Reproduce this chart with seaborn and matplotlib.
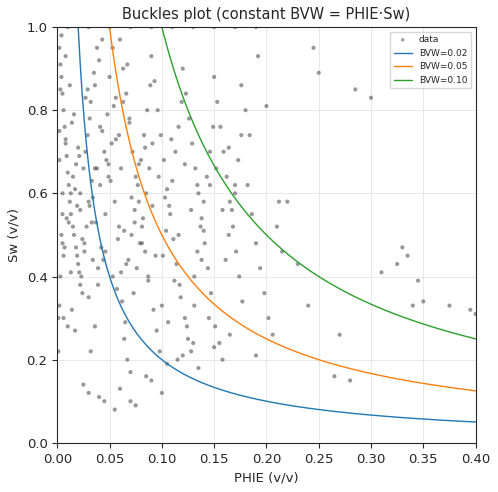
import numpy as np
import matplotlib.pyplot as plt
import seaborn as sns

# scatter points (PHIE, Sw)
phie = [
    0.002, 0.004, 0.006, 0.008, 0.010, 0.012, 0.015, 0.018, 0.020, 0.022,
    0.003, 0.005, 0.007, 0.009, 0.011, 0.013, 0.016, 0.019, 0.021, 0.024,
    0.002, 0.006, 0.010, 0.014, 0.017, 0.023, 0.026, 0.028, 0.030, 0.033,
    0.004, 0.008, 0.012, 0.016, 0.020, 0.025, 0.029, 0.032, 0.035, 0.038,
    0.005, 0.009, 0.013, 0.018, 0.022, 0.027, 0.031, 0.036, 0.040, 0.043,
    0.030, 0.034, 0.037, 0.041, 0.045, 0.048, 0.050, 0.053, 0.056, 0.059,
    0.032, 0.036, 0.039, 0.042, 0.046, 0.049, 0.052, 0.055, 0.058, 0.061,
    0.060, 0.063, 0.066, 0.069, 0.072, 0.075, 0.078, 0.081, 0.084, 0.087,
    0.062, 0.065, 0.068, 0.071, 0.074, 0.077, 0.080, 0.083, 0.086, 0.089,
    0.064, 0.067, 0.070, 0.073, 0.076, 0.079, 0.082, 0.085, 0.088, 0.091,
    0.090, 0.093, 0.096, 0.099, 0.102, 0.105, 0.108, 0.111, 0.114, 0.117,
    0.092, 0.095, 0.098, 0.101, 0.104, 0.107, 0.110, 0.113, 0.116, 0.119,
    0.120, 0.123, 0.126, 0.129, 0.132, 0.135, 0.138, 0.141, 0.144, 0.147,
    0.122, 0.125, 0.128, 0.131, 0.134, 0.137, 0.140, 0.143, 0.146, 0.149,
    0.150, 0.153, 0.156, 0.159, 0.162, 0.165, 0.168, 0.171, 0.174, 0.177,
    0.151, 0.155, 0.158, 0.161, 0.164, 0.167, 0.170, 0.173, 0.176, 0.180,
    0.182, 0.186, 0.190, 0.194, 0.198, 0.202, 0.206, 0.210, 0.215, 0.220,
    0.030, 0.045, 0.060, 0.075, 0.090, 0.105, 0.120, 0.135, 0.150, 0.165,
    0.025, 0.040, 0.055, 0.070, 0.085, 0.100, 0.115, 0.130, 0.145, 0.190,
    0.230, 0.240, 0.245, 0.250, 0.265, 0.270, 0.280, 0.285, 0.300, 0.310,
    0.325, 0.330, 0.335, 0.340, 0.345, 0.350, 0.375, 0.395, 0.400, 0.212,
    0.010, 0.030, 0.050, 0.070, 0.090, 0.110, 0.130, 0.150, 0.170, 0.190,
    0.001, 0.003, 0.005, 0.002, 0.004, 0.001, 0.003, 0.006, 0.002, 0.005,
    0.011, 0.017, 0.024, 0.031, 0.038, 0.044, 0.051, 0.057, 0.064, 0.071,
    0.014, 0.021, 0.027, 0.034, 0.041, 0.047, 0.054, 0.061, 0.067, 0.074,
    0.078, 0.084, 0.091, 0.097, 0.103, 0.109, 0.116, 0.122, 0.128, 0.134,
    0.081, 0.087, 0.094, 0.100, 0.106, 0.112, 0.118, 0.124, 0.131, 0.138,
    0.007, 0.013, 0.019, 0.026, 0.033, 0.039, 0.046, 0.053, 0.059, 0.066,
    0.008, 0.015, 0.022, 0.029, 0.036, 0.043, 0.049, 0.056, 0.063, 0.069,
    0.140, 0.146, 0.152, 0.158, 0.164, 0.170, 0.176, 0.184, 0.192, 0.200,
]
sw = [
    0.95, 0.88, 0.80, 0.72, 0.65, 0.58, 0.52, 0.47, 0.43, 0.38,
    0.91, 0.84, 0.76, 0.69, 0.62, 0.55, 0.50, 0.45, 0.41, 0.36,
    0.33, 0.30, 0.28, 0.32, 0.27, 0.40, 0.46, 0.52, 0.58, 0.63,
    0.98, 0.93, 0.86, 0.79, 0.71, 0.66, 0.74, 0.82, 0.89, 0.95,
    0.48, 0.54, 0.60, 0.67, 0.56, 0.70, 0.78, 0.86, 0.92, 0.97,
    0.35, 0.44, 0.53, 0.62, 0.70, 0.79, 0.88, 0.95, 0.83, 0.74,
    0.22, 0.28, 0.38, 0.47, 0.55, 0.64, 0.72, 0.58, 0.49, 0.41,
    0.97, 0.90, 0.84, 0.77, 0.70, 0.64, 0.58, 0.52, 0.46, 0.40,
    0.34, 0.29, 0.44, 0.50, 0.56, 0.62, 0.68, 0.74, 0.80, 0.86,
    0.25, 0.20, 0.17, 0.36, 0.42, 0.48, 0.54, 0.60, 0.66, 0.72,
    0.93, 0.87, 0.80, 0.74, 0.68, 0.61, 0.55, 0.49, 0.43, 0.38,
    0.32, 0.27, 0.22, 0.45, 0.51, 0.57, 0.63, 0.70, 0.76, 0.82,
    0.90, 0.84, 0.78, 0.72, 0.66, 0.60, 0.54, 0.48, 0.42, 0.36,
    0.30, 0.25, 0.22, 0.40, 0.46, 0.52, 0.58, 0.64, 0.70, 0.76,
    0.88, 0.82, 0.76, 0.70, 0.64, 0.58, 0.52, 0.46, 0.40, 0.34,
    0.28, 0.24, 0.20, 0.44, 0.50, 0.56, 0.62, 0.68, 0.74, 0.80,
    0.62, 0.55, 0.48, 0.42, 0.36, 0.30, 0.26, 0.52, 0.46, 0.58,
    0.12, 0.10, 0.13, 0.09, 0.15, 0.19, 0.21, 0.18, 0.23, 0.26,
    0.14, 0.11, 0.08, 0.10, 0.16, 0.12, 0.20, 0.24, 0.30, 0.21,
    0.43, 0.33, 0.95, 0.89, 0.16, 0.26, 0.15, 0.85, 0.83, 0.41,
    0.43, 0.47, 0.45, 0.33, 0.39, 0.34, 0.33, 0.32, 0.31, 0.58,
    1.00, 1.00, 1.00, 1.00, 1.00, 1.00, 1.00, 1.00, 1.00, 1.00,
    0.22, 0.40, 0.60, 0.75, 0.50, 0.30, 0.85, 0.45, 0.68, 0.55,
    0.53, 0.61, 0.49, 0.57, 0.66, 0.44, 0.63, 0.37, 0.51, 0.59,
    0.77, 0.69, 0.83, 0.59, 0.76, 0.68, 0.81, 0.66, 0.91, 0.53,
    0.67, 0.71, 0.57, 0.64, 0.59, 0.73, 0.50, 0.67, 0.56, 0.62,
    0.48, 0.39, 0.45, 0.33, 0.29, 0.39, 0.35, 0.28, 0.33, 0.44,
    0.47, 0.41, 0.57, 0.48, 0.53, 0.42, 0.46, 0.40, 0.52, 0.43,
    0.73, 0.64, 0.60, 0.85, 0.66, 0.75, 0.67, 0.73, 0.82, 0.78,
    0.51, 0.62, 0.66, 0.56, 0.71, 0.60, 0.86, 0.74, 0.93, 0.81,
]
bvw_values = [0.02, 0.05, 0.10]
curve_colors = ['#1f77b4', '#ff7f0e', '#2ca02c']

sns.set_style('white')
plt.rcParams['font.size'] = 9
fig, ax = plt.subplots(figsize=(4.98, 4.92), dpi=100)
sns.scatterplot(x=phie, y=sw, ax=ax, s=9, color='#333333', alpha=0.5,
                edgecolor='none', label='data')

phi_line = np.linspace(0.001, 0.4, 400)
for bvw, c in zip(bvw_values, curve_colors):
    ax.plot(phi_line, bvw / phi_line, color=c, linewidth=1, label=f'BVW={bvw:.2f}')

ax.set_xlim(0, 0.4)
ax.set_ylim(0, 1)
ax.set_xlabel('PHIE (v/v)', fontsize=9.5)
ax.set_ylabel('Sw (v/v)', fontsize=9.5)
ax.set_title('Buckles plot (constant BVW = PHIE·Sw)', fontsize=10.5)
ax.tick_params(labelsize=9.5, left=True, bottom=True)
ax.grid(True, color='lightgrey', alpha=0.6, linewidth=0.6)
ax.legend(loc='upper right', fontsize=6.5, markerscale=0.8)
plt.subplots_adjust(left=0.115, right=0.955, top=0.945, bottom=0.1)
plt.savefig('out.png', dpi=100)
